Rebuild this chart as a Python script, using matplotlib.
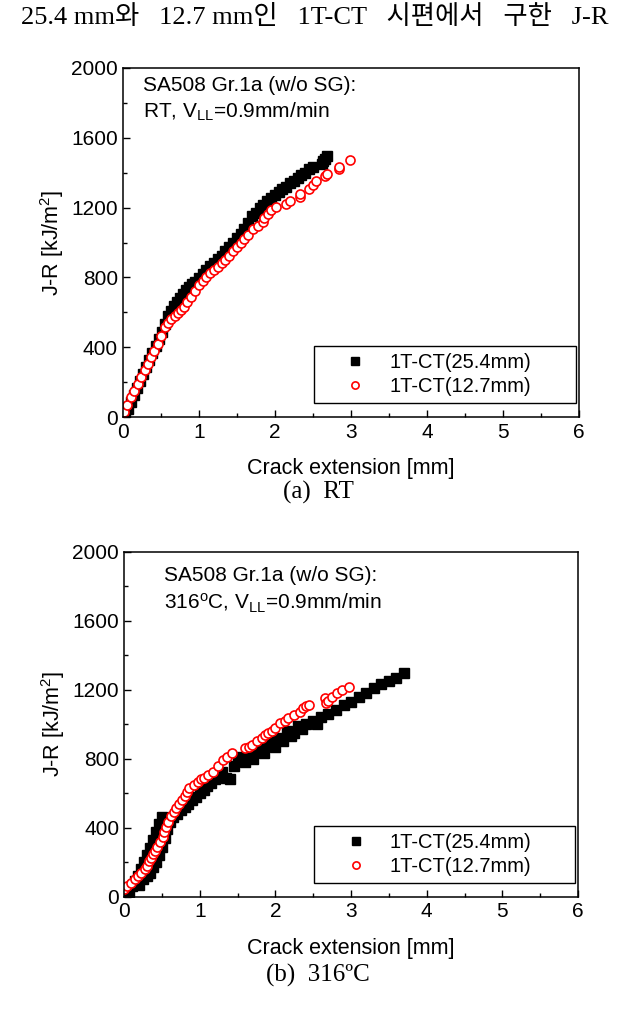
import matplotlib
matplotlib.use("Agg")
import matplotlib.pyplot as plt
from matplotlib.ticker import MultipleLocator

plt.rcParams['font.family'] = ['Liberation Sans', 'DejaVu Sans']
plt.rcParams['mathtext.fontset'] = 'custom'
plt.rcParams['mathtext.rm'] = 'Liberation Sans'
plt.rcParams['mathtext.it'] = 'Liberation Sans:italic'

# ---------------- data ----------------
labels = ["1T-CT(25.4mm)", "1T-CT(12.7mm)"]

# (a) RT
rt_x_254 = [0.03, 0.07, 0.11, 0.15, 0.19, 0.23, 0.27, 0.31, 0.35, 0.39, 0.43, 0.47, 0.51, 0.55,
            0.59, 0.63, 0.67, 0.71, 0.75, 0.79, 0.83, 0.87, 0.91, 0.95, 1.00, 1.05, 1.10, 1.15,
            1.20, 1.25, 1.30, 1.35, 1.40, 1.45, 1.50, 1.55, 1.60, 1.65, 1.70, 1.75, 1.80, 1.85,
            1.90, 1.95, 2.00, 2.05, 2.10, 2.15, 2.20, 2.25, 2.30, 2.35, 2.40, 2.45, 2.50, 2.62,
            2.64, 2.66, 2.68]
rt_j_254 = [5, 45, 85, 125, 165, 205, 245, 285, 325, 365, 405, 445, 490, 535,
            580, 610, 635, 660, 680, 705, 725, 745, 760, 775, 795, 820, 845, 865,
            885, 905, 925, 950, 975, 1000, 1025, 1050, 1080, 1110, 1150, 1170, 1195, 1215,
            1235, 1255, 1275, 1290, 1305, 1320, 1340, 1355, 1370, 1385, 1400, 1420, 1430, 1450,
            1465, 1480, 1495]

rt_x_127 = [0.02, 0.06, 0.11, 0.15, 0.20, 0.24, 0.29, 0.33, 0.37, 0.41, 0.46, 0.50, 0.55, 0.59,
            0.63, 0.68, 0.72, 0.76, 0.80, 0.85, 0.90, 0.95, 1.00, 1.05, 1.10, 1.15, 1.20, 1.25,
            1.30, 1.35, 1.40, 1.45, 1.50, 1.55, 1.60, 1.65, 1.71, 1.78, 1.84, 1.86, 1.91, 1.95,
            2.01, 2.15, 2.20, 2.33, 2.33, 2.45, 2.50, 2.54, 2.66, 2.68, 2.84, 2.85, 2.99]
rt_j_127 = [30, 70, 114, 150, 190, 228, 267, 305, 343, 380, 419, 465, 514, 540,
            562, 578, 595, 612, 632, 660, 690, 720, 754, 780, 800, 825, 845, 860,
            880, 900, 925, 950, 973, 995, 1020, 1045, 1078, 1095, 1116, 1140, 1164, 1185,
            1202, 1221, 1240, 1259, 1278, 1307, 1330, 1354, 1380, 1392, 1421, 1434, 1473]

# (b) 316 C
ht_x_254 = [0.02, 0.06, 0.10, 0.14, 0.18, 0.22, 0.26, 0.30, 0.34, 0.38, 0.42, 0.46, 0.50,
            0.20, 0.25, 0.30, 0.34, 0.38, 0.42, 0.46, 0.50, 0.54, 0.57, 0.60, 0.64, 0.70,
            0.75, 0.80, 0.85, 0.90, 0.95, 1.00, 1.05, 1.10, 1.15, 1.20, 1.25, 1.30, 1.35,
            1.40, 1.45, 1.50, 1.55, 1.60, 1.65, 1.70, 1.75, 1.80, 1.85, 1.90, 1.95, 2.00,
            2.05, 2.10, 2.15, 2.20, 2.25, 2.30, 2.35, 2.40, 2.50, 2.55, 2.60, 2.70, 2.80,
            2.90, 3.00, 3.10, 3.20, 3.30, 3.40, 3.50, 3.60, 3.70]
ht_j_254 = [5, 30, 60, 90, 120, 160, 200, 240, 285, 330, 375, 420, 460,
            70, 100, 120, 140, 170, 200, 240, 290, 340, 390, 430, 460, 480,
            500, 520, 540, 560, 580, 600, 620, 640, 660, 680, 700, 720, 690,
            680, 760, 800, 810, 780, 830, 800, 850, 870, 830, 880, 900, 870,
            920, 900, 960, 930, 950, 990, 970, 1000, 1020, 1000, 1040, 1060, 1080,
            1110, 1130, 1160, 1180, 1210, 1230, 1250, 1270, 1295]

ht_x_127 = [0.00, 0.04, 0.09, 0.14, 0.18, 0.22, 0.27, 0.30, 0.33, 0.36, 0.38, 0.41, 0.44,
            0.47, 0.51, 0.53, 0.55, 0.58, 0.62, 0.66, 0.69, 0.73, 0.77, 0.80, 0.83, 0.86,
            0.92, 0.97, 1.02, 1.06, 1.11, 1.17, 1.24, 1.31, 1.36, 1.42, 1.60, 1.65, 1.69,
            1.75, 1.82, 1.86, 1.90, 1.95, 1.99, 2.06, 2.12, 2.17, 2.24, 2.32, 2.37, 2.41,
            2.44, 2.65, 2.67, 2.70, 2.75, 2.82, 2.88, 2.97]
ht_j_127 = [45, 60, 80, 100, 118, 135, 158, 180, 205, 225, 245, 265, 290,
            315, 348, 375, 405, 435, 465, 490, 512, 535, 560, 585, 605, 630,
            650, 667, 680, 690, 705, 725, 760, 790, 810, 835, 860, 870, 880,
            900, 918, 935, 947, 960, 976, 1005, 1020, 1034, 1053, 1072, 1095, 1105,
            1111, 1150, 1121, 1135, 1159, 1179, 1198, 1217]

x_ticks = [0, 1, 2, 3, 4, 5, 6]
y_ticks = [0, 400, 800, 1200, 1600, 2000]

panels = [
    dict(rect=[0.195, 0.5871, 0.7238, 0.3456], xa=rt_x_254, ja=rt_j_254, xb=rt_x_127, jb=rt_j_127,
         line1="SA508 Gr.1a (w/o SG):", line2=r"RT, V$_{\mathrm{LL}}$=0.9mm/min",
         tpos=(0.045, 0.951, 0.874), caption="(a)  RT", cap_y=0.512),
    dict(rect=[0.197, 0.1122, 0.7206, 0.3416], xa=ht_x_254, ja=ht_j_254, xb=ht_x_127, jb=ht_j_127,
         line1="SA508 Gr.1a (w/o SG):", line2=r"316$^{\mathrm{o}}$C, V$_{\mathrm{LL}}$=0.9mm/min",
         tpos=(0.087, 0.932, 0.850), caption="(b)  316\u00baC", cap_y=0.034),
]

fig = plt.figure(figsize=(6.3, 10.1), dpi=100)

fig.text(0.5, 0.983, "25.4 mm와   12.7 mm인   1T-CT   시편에서   구한   J-R",
         ha='center', va='center', fontsize=19,
         family=['Liberation Serif', 'Noto Sans CJK KR'])

for p in panels:
    ax = fig.add_axes(p['rect'])
    ax.plot(p['xa'], p['ja'], linestyle='none', marker='s', markersize=6.5,
            color='black', markeredgecolor='black', label=labels[0])
    ax.plot(p['xb'], p['jb'], linestyle='none', marker='o', markersize=6.5,
            markerfacecolor='white', markeredgecolor='red', markeredgewidth=1.2,
            label=labels[1])
    ax.set_xlim(0, 6)
    ax.set_ylim(0, 2000)
    ax.set_xticks(x_ticks)
    ax.set_yticks(y_ticks)
    ax.xaxis.set_minor_locator(MultipleLocator(0.5))
    ax.yaxis.set_minor_locator(MultipleLocator(200))
    ax.tick_params(which='both', direction='in', top=False, right=False, labelsize=15)
    ax.tick_params(which='major', length=5, width=1)
    ax.tick_params(which='minor', length=3, width=1)
    ax.tick_params(axis='x', pad=4)
    for s in ax.spines.values():
        s.set_linewidth(1.1)
    ax.set_xlabel("Crack extension [mm]", fontsize=15.5, labelpad=12)
    ax.set_ylabel(r"J-R [kJ/m$^2$]", fontsize=15.5, labelpad=4)
    tx, ty1, ty2 = p['tpos']
    ax.text(tx, ty1, p['line1'], transform=ax.transAxes, fontsize=15, va='center', ha='left')
    ax.text(tx, ty2, p['line2'], transform=ax.transAxes, fontsize=15, va='center', ha='left')
    leg = ax.legend(loc='lower left', bbox_to_anchor=(0.419, 0.04, 0.574, 0.1), mode='expand',
                    fontsize=14.5, frameon=True, fancybox=False, edgecolor='black', framealpha=1,
                    markerscale=0.8, handlelength=3.4, handletextpad=0.0,
                    borderpad=0.35, labelspacing=0.25, borderaxespad=0)
    leg.get_frame().set_linewidth(1.0)
    fig.text(0.505, p['cap_y'], p['caption'], ha='center', va='center', fontsize=18,
             family=['Liberation Serif', 'DejaVu Serif'])

fig.savefig("out.png", dpi=100)
